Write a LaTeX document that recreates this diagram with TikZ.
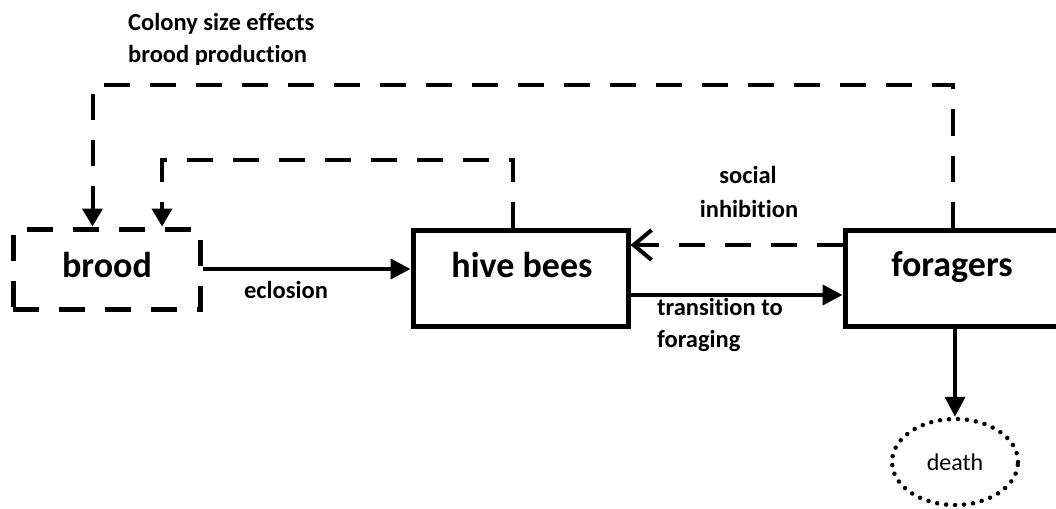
\documentclass[tikz,border=0pt]{standalone}
\usepackage{fontspec}
\setmainfont{Carlito}[Ligatures=NoCommon]
\usetikzlibrary{arrows.meta,shapes.geometric}
\begin{document}
\begin{tikzpicture}[x=1pt,y=-1pt,
 box/.style={draw,line width=5pt,inner sep=0pt},
 dbox/.style={box,dash pattern=on 26pt off 20pt},
 bigtxt/.style={font=\fontsize{36}{40}\selectfont\bfseries,inner sep=0pt,anchor=base},
 lbl/.style={font=\fontsize{24.5}{28}\selectfont\bfseries,inner sep=0pt},
 conn/.style={line width=4pt,-{Triangle[length=20pt,width=20pt]}},
 dconn/.style={line width=4pt,dash pattern=on 26pt off 20pt,-{Triangle[length=18pt,width=20pt]}},
 inhib/.style={line width=4pt,dash pattern=on 26pt off 20pt,-{Straight Barb[length=18pt,width=30pt]}},
 dotted ell/.style={ellipse,draw,line width=4.5pt,line cap=round,dash pattern=on 0pt off 9pt,inner sep=0pt,minimum width=126pt,minimum height=86pt}
 ]
\useasboundingbox (0,0) rectangle (1056,508);
% boxes
\node[dbox,minimum width=187pt,minimum height=80pt] (brood) at (106.5,269) {};
\node[box,minimum width=215pt,minimum height=96pt] (hive) at (520.5,278) {};
\node[box,minimum width=220pt,minimum height=96pt] (forg) at (955,278) {};
\node[dotted ell,font=\fontsize{24}{28}\selectfont] (death) at (955,462) {death};
% box texts
\node[bigtxt] (broodt) at (107,277) {brood};
\node[bigtxt] (hivet) at (522,277) {hive bees};
\node[bigtxt] (forgt) at (952,276) {foragers};
% helper coordinates
\coordinate (top1) at (0,85);
\coordinate (top2) at (0,160);
% connectors
\draw[conn] (brood.east) -- (brood.east -| hive.west);
\draw[conn] ([yshift=-17pt]hive.east) -- ([yshift=-17pt]forg.west);
\draw[inhib] ([yshift=33pt]forg.west) -- ([yshift=33pt]hive.east);
\draw[conn] (forg.south) -- (death.north);
\draw[dconn] ([xshift=-2pt]forg.north) -- ([xshift=-2pt]forg.north |- top1) -| ([xshift=-14pt]brood.north);
\draw[dconn] ([xshift=-7.5pt]hive.north) -- ([xshift=-7.5pt]hive.north |- top2) -| ([xshift=55.5pt]brood.north);
% labels
\node[lbl,anchor=base] (ecl) at (286,298) {eclosion};
\node[lbl,anchor=base west] (tr1) at (657,315) {transition to};
\node[lbl,anchor=base west] (tr2) at (657,347) {foraging};
\node[lbl,anchor=base] (si1) at (748,183) {social};
\node[lbl,anchor=base] (si2) at (749,217) {inhibition};
\node[lbl,anchor=base west] (ti1) at (128,31) {Colony size effects};
\begin{scope}
\clip (0,0) rectangle (1056,65);
\node[lbl,anchor=base west] (ti2) at (128,63) {brood production};
\end{scope}
\end{tikzpicture}
\end{document}
